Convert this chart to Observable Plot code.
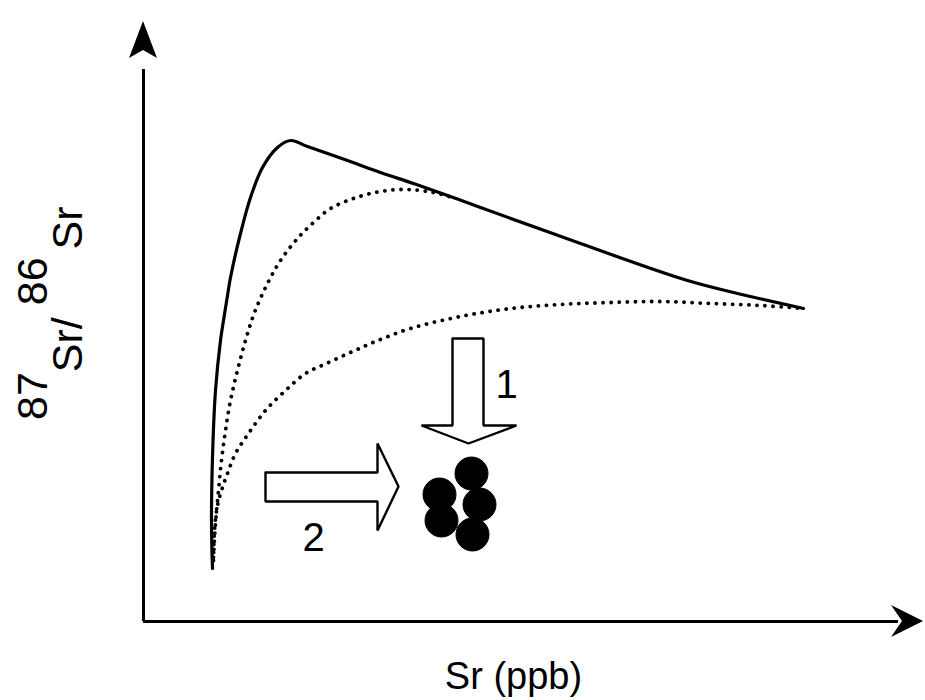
<!DOCTYPE html>
<html>
<head>
<meta charset="utf-8">
<script src="https://cdn.jsdelivr.net/npm/d3@7"></script>
<script src="https://cdn.jsdelivr.net/npm/@observablehq/plot@0.6"></script>
<style>
  html, body { margin: 0; padding: 0; background: #fff; }
  #chart svg { display: block; }
</style>
</head>
<body>
<div id="chart"></div>
<script>
// Schematic units: x = Sr (ppb, arbitrary), y = 87Sr/86Sr (arbitrary)
const xMax = 78, yMax = 60;

// solid mixing curve
const solidCurve = [
  [6.9,5.3],[6.8,9.8],[6.9,16.4],[7.2,23.1],[7.7,28.1],[8.0,30.1],[8.4,32.6],[8.7,34.4],
  [9.7,38.8],[10.7,42.4],[11.9,45.4],[13.4,47.4],[14.7,48.1],[16.4,47.5],[20.4,46.1],
  [23.7,44.9],[27.0,43.8],[30.4,42.6],[33.7,41.4],[43.7,37.8],[54.4,34.1],[60.7,32.5],[66.0,31.3]
];
// upper dotted curve
const dottedUpper = [
  [7.0,6.4],[7.2,9.8],[7.5,13.1],[7.8,16.1],[8.2,19.1],[8.7,22.1],[9.4,25.1],[10.2,28.1],
  [11.1,30.9],[12.4,33.8],[13.7,36.1],[15.4,38.3],[17.0,39.9],[18.7,41.3],[21.0,42.3],
  [23.7,43.0],[26.4,43.2],[29.0,42.9],[31.2,42.3]
];
// lower dotted curve
const dottedLower = [
  [7.0,6.1],[7.1,9.1],[7.4,11.6],[7.9,13.4],[8.4,14.8],[9.2,16.8],[10.5,18.8],[12.2,21.1],
  [14.2,23.1],[16.2,24.8],[18.5,25.9],[20.9,27.0],[23.2,28.0],[26.7,29.3],[31.7,30.5],
  [36.7,31.3],[41.7,31.7],[46.7,31.9],[51.7,32.0],[56.7,31.8],[61.7,31.6],[66.0,31.3]
];
// cluster of samples
const samplesX = [32.8, 33.6, 32.9, 29.6, 29.8];
const samplesY = [14.8, 11.7, 8.7, 12.7, 10.1];

// hollow process arrows (outline vertices)
const arrow1 = [[30.9,28.3],[34.0,28.3],[34.0,19.6],[37.3,19.6],[32.5,17.8],[27.8,19.6],[30.9,19.6],[30.9,28.3]];
const arrow2 = [[12.2,14.9],[23.4,14.9],[23.4,17.8],[25.5,13.5],[23.4,9.1],[23.4,12.0],[12.2,12.0],[12.2,14.9]];
const arrowLabels = [{x: 36.3, y: 22.4, t: "1"}, {x: 17.0, y: 7.1, t: "2"}];
const xLabel = [{x: 37.0, y: -6.7, t: "Sr (ppb)"}];

const font = "'Liberation Sans', Arial, Helvetica, sans-serif";
const pts = a => a.map(([x, y]) => ({x, y}));
const samples = samplesX.map((x, i) => ({x, y: samplesY[i]}));

function axisHeads(index, scales) {
  const x0 = scales.x(0), y0 = scales.y(0);
  const xt = scales.x(xMax), yt = scales.y(yMax);
  const g = d3.create("svg:g").attr("fill", "black");
  g.append("path").attr("d",
    `M${x0},${yt} L${x0 + 14},${yt + 37} L${x0},${yt + 29} L${x0 - 14},${yt + 37} Z`);
  g.append("path").attr("d",
    `M${xt},${y0} L${xt - 32},${y0 + 16} L${xt - 21},${y0} L${xt - 32},${y0 - 16} Z`);
  return g.node();
}

function yLabel(index, scales) {
  const px = scales.x(-6.1), py = scales.y(20.1);
  const t = d3.create("svg:text")
    .attr("transform", `translate(${px},${py}) rotate(-90)`)
    .attr("text-anchor", "start")
    .attr("font-family", font).attr("font-size", 43).attr("fill", "black");
  t.append("tspan").attr("dy", -35).text("87");
  t.append("tspan").attr("dy", 35).text("Sr/ ");
  t.append("tspan").attr("dy", -35).text("86");
  t.append("tspan").attr("dy", 35).attr("dx", 8).text("Sr");
  return t.node();
}

const plot = Plot.plot({
  width: 925,
  height: 700,
  marginLeft: 143,
  marginRight: 2,
  marginTop: 21,
  marginBottom: 79,
  x: {domain: [0, xMax], axis: null},
  y: {domain: [0, yMax], axis: null},
  style: {background: "#fff", fontFamily: font, overflow: "visible"},
  marks: [
    Plot.ruleX([0], {y1: 0, y2: yMax - 4.8, stroke: "black", strokeWidth: 3}),
    Plot.ruleY([0], {x1: 0, x2: xMax - 2.5, stroke: "black", strokeWidth: 3}),
    axisHeads,
    Plot.line(pts(dottedLower), {x: "x", y: "y", curve: "catmull-rom", stroke: "black",
      strokeWidth: 3.8, strokeDasharray: "0.1 8", strokeLinecap: "round"}),
    Plot.line(pts(dottedUpper), {x: "x", y: "y", curve: "catmull-rom", stroke: "black",
      strokeWidth: 3.8, strokeDasharray: "0.1 8", strokeLinecap: "round"}),
    Plot.line(pts(solidCurve), {x: "x", y: "y", curve: "catmull-rom", stroke: "black",
      strokeWidth: 3.2}),
    Plot.line(pts(arrow1), {x: "x", y: "y", stroke: "black", strokeWidth: 2.4, strokeLinejoin: "miter"}),
    Plot.line(pts(arrow2), {x: "x", y: "y", stroke: "black", strokeWidth: 2.4, strokeLinejoin: "miter"}),
    Plot.dot(samples, {x: "x", y: "y", r: 16.5, fill: "black", stroke: "black", strokeWidth: 1}),
    Plot.text(arrowLabels, {x: "x", y: "y", text: "t", fontSize: 40, lineAnchor: "bottom",
      textAnchor: "middle", fill: "black", fontFamily: font}),
    Plot.text(xLabel, {x: "x", y: "y", text: "t", fontSize: 38, lineAnchor: "bottom",
      textAnchor: "middle", fill: "black", fontFamily: font}),
    yLabel
  ]
});
document.getElementById("chart").appendChild(plot);
</script>
</body>
</html>
